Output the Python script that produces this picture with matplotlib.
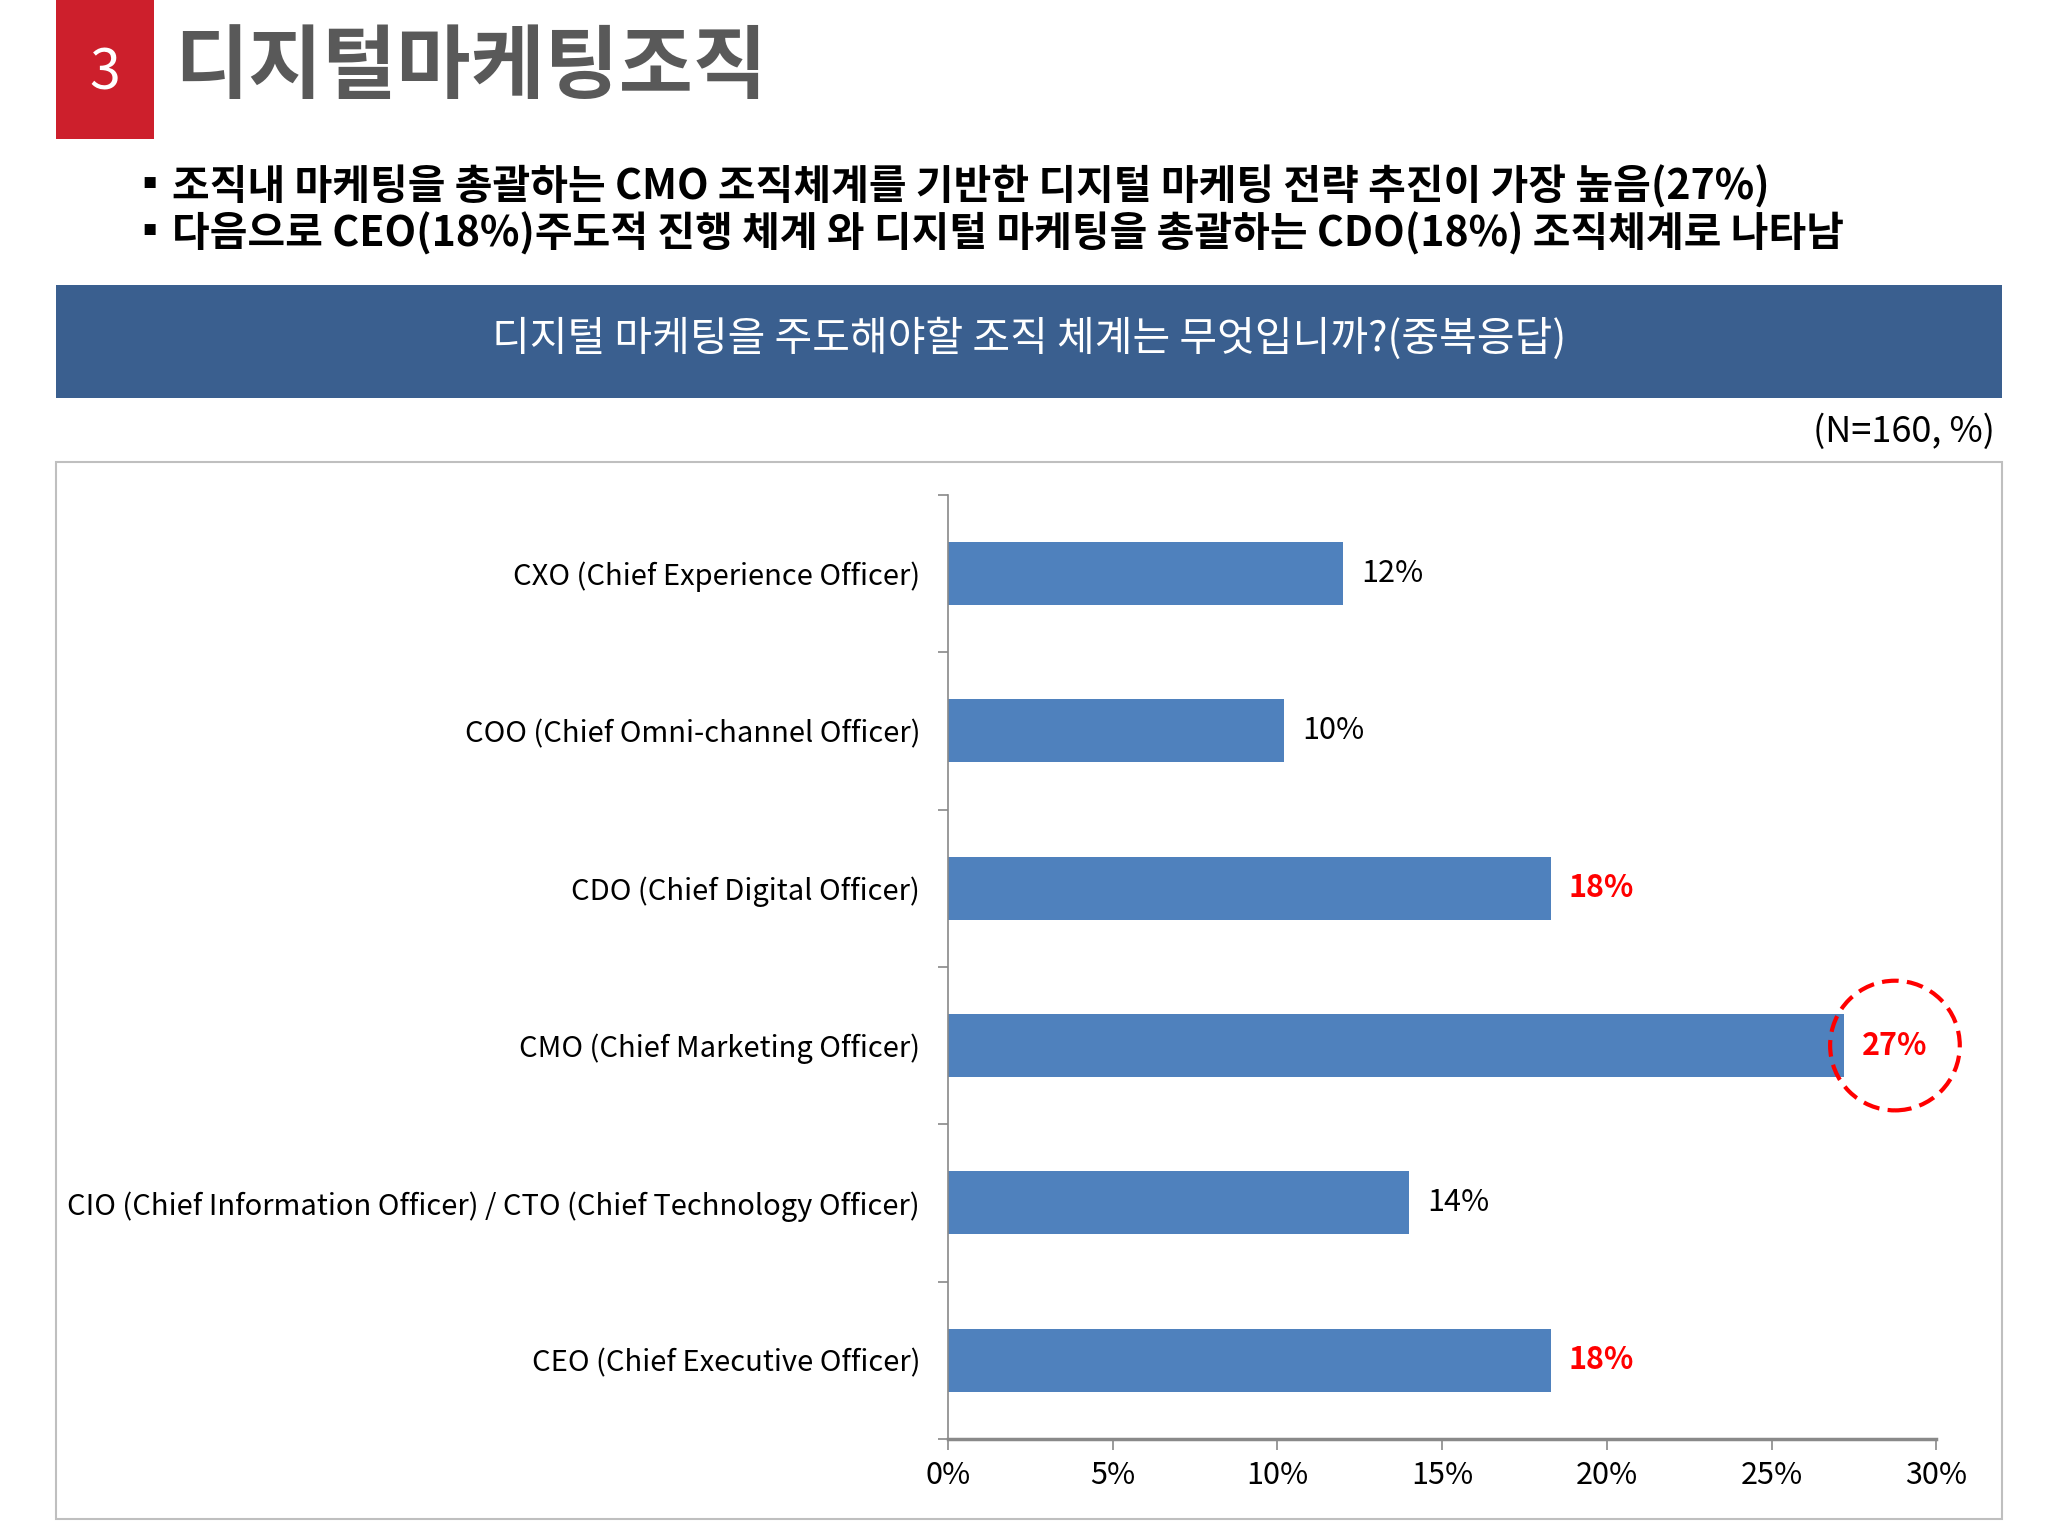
import matplotlib
matplotlib.use("Agg")
import matplotlib.pyplot as plt
from matplotlib.patches import Rectangle
from matplotlib.ticker import FixedLocator, FuncFormatter

plt.rcParams['font.family'] = ['Noto Sans CJK KR', 'DejaVu Sans']

# ---- data ----
categories = [
    "CXO (Chief Experience Officer)",
    "COO (Chief Omni-channel Officer)",
    "CDO (Chief Digital Officer)",
    "CMO (Chief Marketing Officer)",
    "CIO (Chief Information Officer) / CTO (Chief Technology Officer)",
    "CEO (Chief Executive Officer)",
]
values = [12.0, 10.2, 18.3, 27.2, 14.0, 18.3]
highlight = [False, False, True, True, False, True]
circled = [False, False, False, True, False, False]
x_ticks = [0, 5, 10, 15, 20, 25, 30]

section_no = "3"
title = "디지털마케팅조직"
bullet_mark = "▪"
bullets = [
    "조직내 마케팅을 총괄하는 CMO 조직체계를 기반한 디지털 마케팅 전략 추진이 가장 높음(27%)",
    "다음으로 CEO(18%)주도적 진행 체계 와 디지털 마케팅을 총괄하는 CDO(18%) 조직체계로 나타남",
]
question = "디지털 마케팅을 주도해야할 조직 체계는 무엇입니까?(중복응답)"
note = "(N=160, %)"

# ---- layout helpers (reference coords 1560 x 1170) ----
W, H = 1560.0, 1170.0
def fx(x): return x / W
def fy(y): return 1 - y / H

BAR_COLOR = "#4F81BD"
RED = "#FF0000"

fig = plt.figure(figsize=(20.48, 15.36), dpi=100)
fig.patch.set_facecolor("white")

# red number box
fig.patches.append(Rectangle((fx(43), fy(106)), fx(117) - fx(43), fy(0) - fy(106),
                             transform=fig.transFigure, facecolor="#CD1F2C", edgecolor="none"))
fig.text(fx(80), fy(56), section_no, color="white", fontsize=40, ha="center", va="center",
         fontweight="light")
fig.text(fx(133), fy(52), title, color="#595959", fontsize=58, fontweight="bold",
         ha="left", va="center")

# bullets
for yy, txt in zip([142, 178], bullets):
    fig.text(fx(114), fy(yy), bullet_mark, fontsize=29, fontweight="bold", color="black",
             ha="center", va="center")
    fig.text(fx(131), fy(yy), txt, fontsize=29.5, fontweight="bold", color="black",
             ha="left", va="center")

# question banner
fig.patches.append(Rectangle((fx(43), fy(303)), fx(1525) - fx(43), fy(217) - fy(303),
                             transform=fig.transFigure, facecolor="#3A5F8F", edgecolor="none"))
fig.text(fx(784), fy(258), question, color="white", fontsize=29.5, ha="center", va="center",
         fontweight="light")

fig.text(fx(1520), fy(329), note, color="black", fontsize=26, ha="right", va="center",
         fontweight="light")

# chart frame
fig.patches.append(Rectangle((fx(43), fy(1157)), fx(1525) - fx(43), fy(352) - fy(1157),
                             transform=fig.transFigure, facecolor="none",
                             edgecolor="#BFBFBF", linewidth=1.5))

# axes
ax = fig.add_axes([fx(722), fy(1096), fx(1475) - fx(722), fy(377) - fy(1096)])
ax.set_facecolor("none")
ypos = list(range(len(categories)))
ax.barh(ypos, values, height=0.4, color=BAR_COLOR, edgecolor="none")
ax.set_xlim(x_ticks[0], x_ticks[-1])
ax.set_ylim(len(categories) - 0.5, -0.5)

ax.set_xticks(x_ticks)
ax.xaxis.set_major_formatter(FuncFormatter(lambda v, p: f"{int(v)}%"))
ax.tick_params(axis="x", direction="out", length=8, width=1.2, color="#898989",
               labelsize=22, pad=7, labelcolor="black")
for lbl in ax.get_xticklabels():
    lbl.set_fontweight("light")

ax.set_yticks(ypos)
ax.set_yticklabels(categories)
ax.yaxis.set_minor_locator(FixedLocator([i - 0.5 for i in range(len(categories) + 1)]))
ax.tick_params(axis="y", which="major", length=0, pad=20, labelsize=21, labelcolor="black")
ax.tick_params(axis="y", which="minor", direction="out", length=7, width=1.2, color="#898989")
for lbl in ax.get_yticklabels():
    lbl.set_fontweight("light")

for s in ["top", "right"]:
    ax.spines[s].set_visible(False)
ax.spines["left"].set_color("#898989")
ax.spines["left"].set_linewidth(1.2)
ax.spines["bottom"].set_color("#898989")
ax.spines["bottom"].set_linewidth(2.5)

for i, v in enumerate(values):
    kw = dict(xy=(v, i), xytext=(13, 0), textcoords="offset points",
              ha="left", va="center", fontsize=22)
    if highlight[i]:
        kw.update(color=RED, fontweight="bold")
    else:
        kw.update(color="black", fontweight="light")
    if circled[i]:
        kw.update(bbox=dict(boxstyle="circle,pad=1.05", facecolor="none", edgecolor=RED,
                            linewidth=3, linestyle=(0, (4, 2))))
    ax.annotate(f"{v:.0f}%", **kw)

fig.savefig("out.png", dpi=100, facecolor="white")
